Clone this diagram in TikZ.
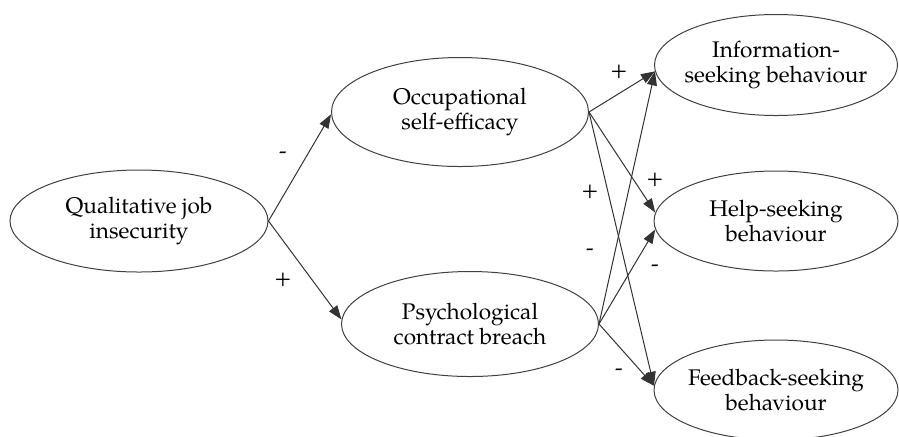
\documentclass[tikz,border=0pt]{standalone}
\usepackage{fontspec}
\setmainfont{TeX Gyre Pagella}
\usetikzlibrary{arrows.meta, shapes.geometric}

\begin{document}
\begin{tikzpicture}[x=0.5pt, y=-0.5pt,
        construct/.style={ellipse, draw=black!75, line width=0.5pt, align=center,
            inner xsep=-6pt, inner ysep=0pt, font=\fontsize{11.3}{12.5}\selectfont},
        link/.style={-{Triangle[length=7pt,width=5pt]}, draw=black!80, line width=0.5pt},
        sign/.style={inner sep=0pt, font=\fontsize{11.3}{12.5}\selectfont}]
    \useasboundingbox (0,0) rectangle (899,436);

    % Constructs
    \node[construct, minimum width=129pt, minimum height=51pt] (job) at (139,221) {Qualitative job\\insecurity};
    \node[construct, minimum width=128.5pt, minimum height=54.5pt] (occ) at (460,112) {Occupational\\self-efficacy};
    \node[construct, minimum width=128.5pt, minimum height=52.5pt] (psych) at (470,324) {Psychological\\contract breach};

    % Outcomes (cut off at the right)
    \node[construct, minimum width=121.5pt, minimum height=50.5pt] (info) at (776,65) {Information-\\seeking behaviour};
    \node[construct, minimum width=122pt, minimum height=50pt] (help) at (776,221) {Help-seeking\\behaviour};
    \node[construct, minimum width=122pt, minimum height=50pt] (feed) at (776,390) {Feedback-seeking\\behaviour};

    % Paths
    \draw[link] (job.east) -- (occ.181);
    \draw[link] (job.east) -- (psych.178);
    \foreach \src/\tgt in {occ/info.183, occ/help.176, occ/feed.178,
                           psych/info.183, psych/help.184, psych/feed.178} {
        \draw[link] (\src.east) -- (\tgt);
    }

    % Signs
    \node[sign] (s1) at (283,155) {-};
    \node[sign] (s2) at (283,280) {+};
    \node[sign] (s3) at (619,72) {+};
    \node[sign] (s4) at (590,192) {+};
    \node[sign] (s5) at (655,180) {+};
    \node[sign] (s6) at (590,252) {-};
    \node[sign] (s7) at (655,268) {-};
    \node[sign] (s8) at (619,372) {-};
\end{tikzpicture}
\end{document}
